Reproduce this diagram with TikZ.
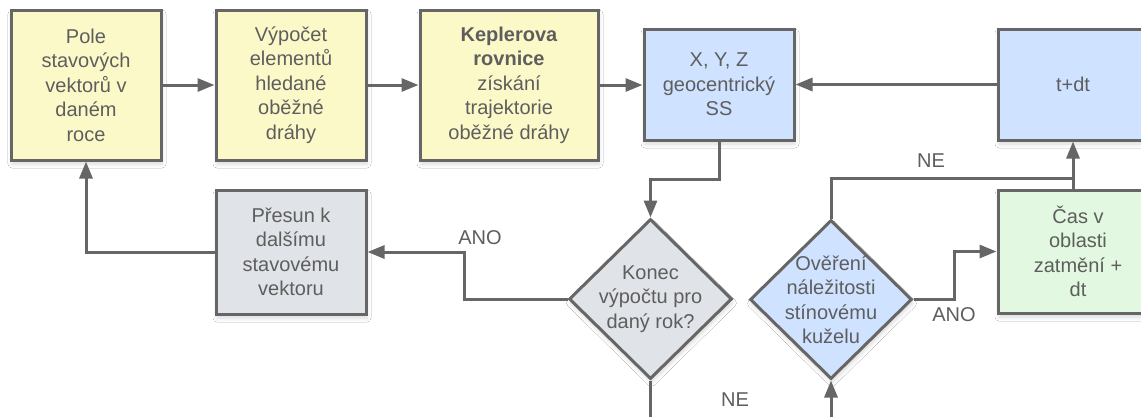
\documentclass[tikz,border=0pt]{standalone}
\usepackage{fontspec}
\setmainfont{Liberation Sans}
\usetikzlibrary{arrows.meta,shapes.geometric,shadows.blur,calc}

\definecolor{linegray}{HTML}{666666}
\definecolor{textgray}{HTML}{5E5E5E}
\definecolor{yellowfill}{HTML}{FCF9C9}
\definecolor{bluefill}{HTML}{CFE2FF}
\definecolor{grayfill}{HTML}{E0E3E8}
\definecolor{greenfill}{HTML}{E2F8E0}

\begin{document}
\begin{tikzpicture}[x=1pt, y=-1pt,
    every node/.style={text=textgray, font=\fontsize{20}{24.5}\selectfont, align=center},
    box/.style={draw=linegray, line width=3pt, minimum width=150pt, inner sep=2pt,
        blur shadow={shadow xshift=1pt, shadow yshift=-4pt, shadow blur radius=4pt, shadow opacity=15}},
    decision/.style={box, diamond, inner sep=0pt},
    link/.style={draw=linegray, line width=3pt, -{Triangle[length=17pt, width=13pt]}},
    plain/.style={draw=linegray, line width=3pt},
    lbl/.style={inner sep=0pt},
    ]
    \fill[white] (0,0) rectangle (1141,416);
    \useasboundingbox (0,0) rectangle (1141,416);

    % top row
    \node[box, fill=yellowfill, minimum height=150pt] (pole) at (86,85) {Pole\\stavových\\vektorů v\\daném\\roce};
    \node[box, fill=yellowfill, minimum height=150pt] (vypocet) at (291,85) {Výpočet\\elementů\\hledané\\oběžné\\dráhy};
    \node[box, fill=yellowfill, minimum height=150pt, minimum width=178pt] (kepler) at (509,85)
        {\textbf{Keplerova}\\\textbf{rovnice}\\získání\\trajektorie\\oběžné dráhy};
    \node[box, fill=bluefill, minimum height=111pt] (xyz) at (719,84.5) {X, Y, Z\\geocentrický\\SS};
    \node[box, fill=bluefill, minimum height=111pt, minimum width=160pt] (tdt) at (1078,84.5) {t+dt\hspace*{10pt}};

    % bottom row
    \node[box, fill=grayfill, minimum height=124pt] (presun) at (291,252) {Přesun k\\dalšímu\\stavovému\\vektoru};
    \node[decision, fill=grayfill, minimum width=163pt, minimum height=160pt,
        label={[align=center]center:Konec\\výpočtu pro\\daný rok?}] (konec) at (650.5,299) {};
    \node[decision, fill=bluefill, minimum width=162pt, minimum height=159pt,
        label={[align=center]center:Ověření\\náležitosti\\stínovému\\kuželu}] (overeni) at (831,299.5) {};
    \node[box, fill=greenfill, minimum height=123pt, minimum width=160pt] (cas) at (1078,251.5)
        {Čas v\\oblasti\\zatmění +\\dt};

    % connectors
    \draw[link] (pole.east) -- (vypocet.west);
    \draw[link] (vypocet.east) -- (kepler.west);
    \draw[link] (kepler.east) -- (xyz.west |- kepler.east);
    \draw[link] (tdt.west) -- (xyz.east);
    \draw[link] (xyz.south) |- ($(xyz.south)!.5!(konec.north)$) -| (konec.north);
    \draw[link] (konec.west) -- ++(-103,0) |- (presun.east);
    \draw[link] (presun.west) -| (pole.south);
    \draw[link] (konec.south) -- ++(0,80) -| (overeni.south);
    \draw[link] (overeni.east) -- ++(41,0) |- (cas.west);
    \coordinate (join) at ($(cas.north)+(-5,-10)$);
    \draw[plain] (overeni.north) |- (join);
    \draw[link] (cas.north -| join) -- (tdt.south -| join);

    % labels
    \node[lbl] (ano1) at (480,238) {ANO};
    \node[lbl] (ne1) at (735,400) {NE};
    \node[lbl] (ano2) at (954,315) {ANO};
    \node[lbl] (ne2) at (931,161) {NE};
\end{tikzpicture}
\end{document}
